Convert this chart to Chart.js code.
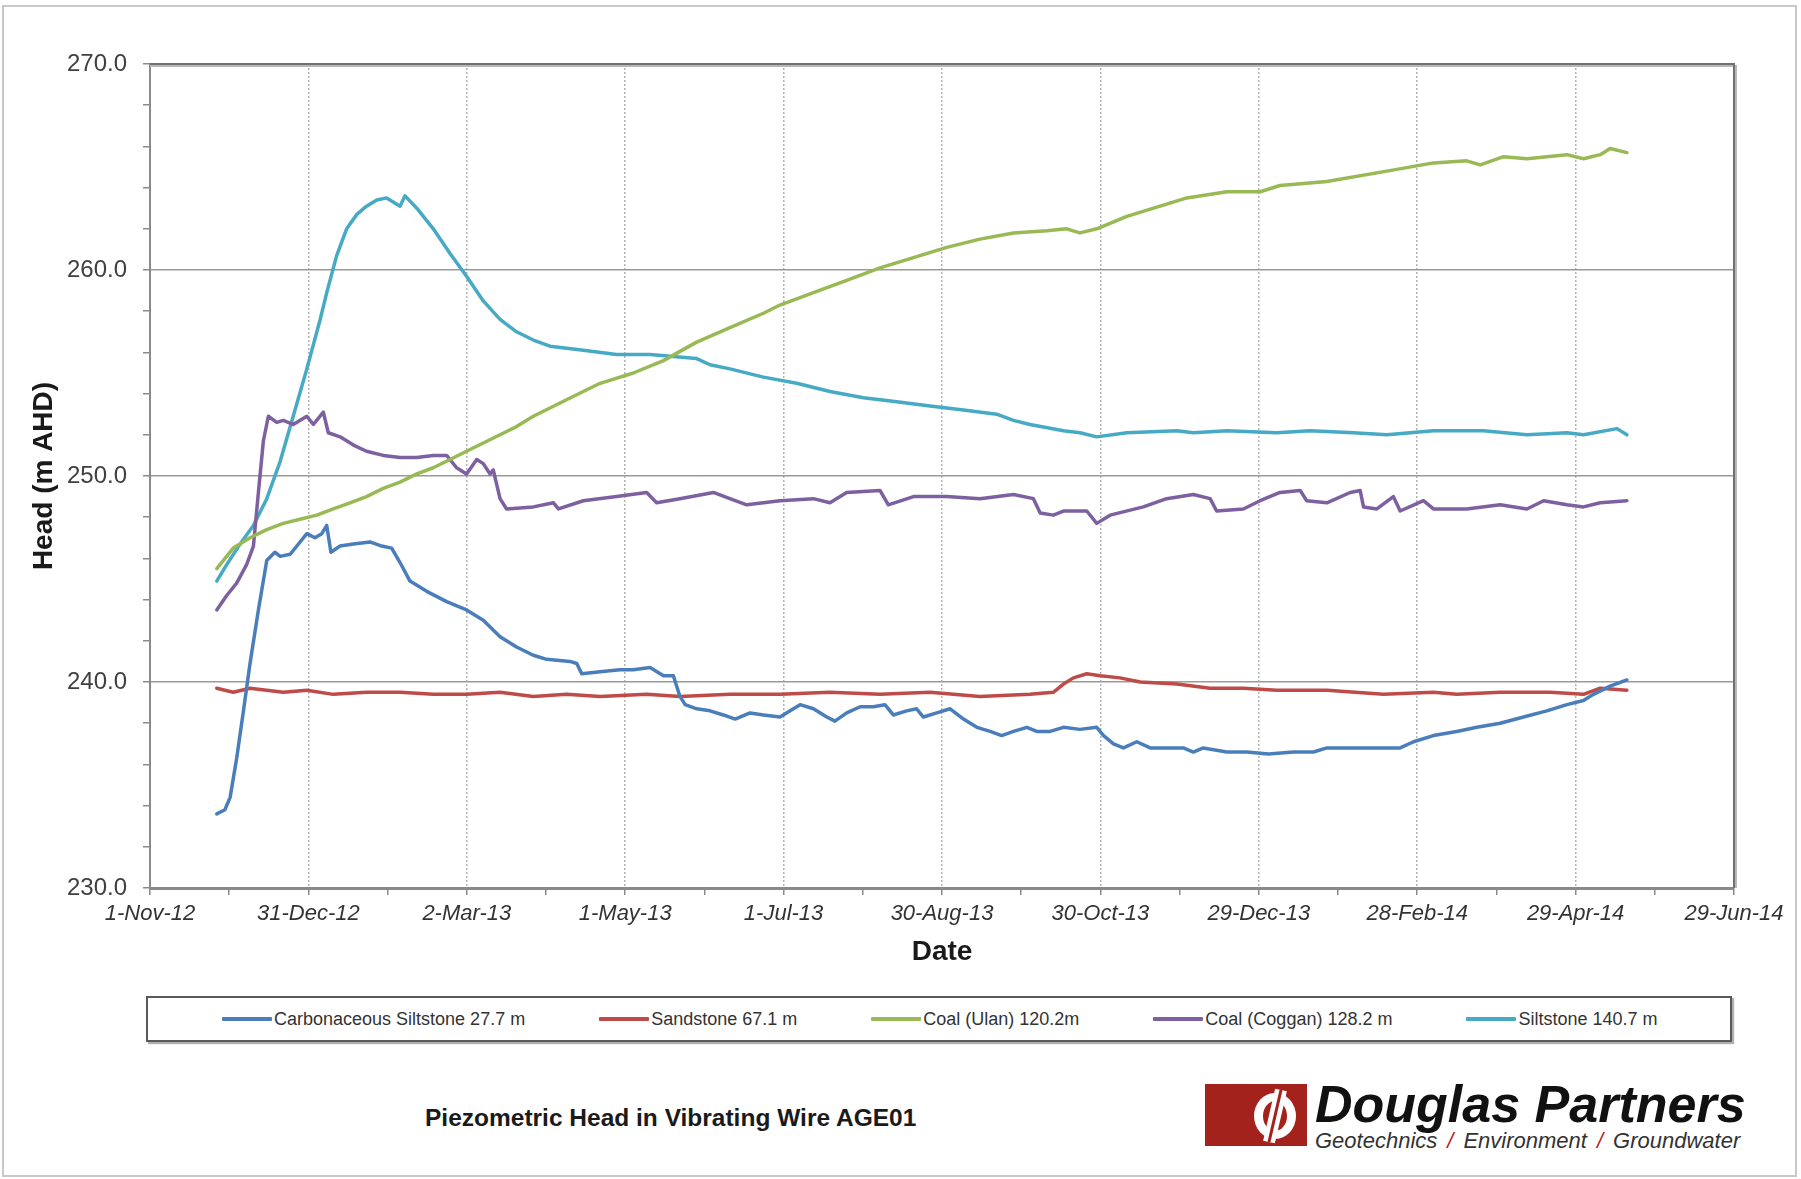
<!DOCTYPE html>
<html>
<head>
<meta charset="utf-8">
<title>Piezometric Head in Vibrating Wire AGE01</title>
<script src="https://cdn.jsdelivr.net/npm/chart.js@4.4.1/dist/chart.umd.min.js"></script>
<style>
  html, body { margin: 0; padding: 0; background: #fff; }
  body { width: 1801px; height: 1179px; position: relative; overflow: hidden; font-family: "Liberation Sans", Arial, sans-serif; }
  #frame { position: absolute; left: 2px; top: 5px; width: 1795px; height: 1172px; border: 2px solid #c8c8c8; box-sizing: border-box; }
  #chartBox { position: absolute; left: 0; top: 0; width: 1801px; height: 990px; }
  #legend { position: absolute; left: 146px; top: 996px; width: 1586px; height: 46px; box-sizing: border-box;
    border: 2px solid #5a5a5a; box-shadow: 2px 2px 1px #b0b0b0; display: flex; align-items: center;
    padding-left: 74px; gap: 74px; font-size: 18px; color: #333; white-space: nowrap; }
  #legend .item { display: flex; align-items: center; }
  #legend .swatch { display: inline-block; width: 50px; height: 4px; margin-right: 2px; border-radius: 1px; }
  #caption { position: absolute; left: 425px; top: 1104px; font-size: 24.5px; line-height: 28px; font-weight: bold; color: #1a1a1a; }
  #logoMark { position: absolute; left: 1205px; top: 1084px; width: 102px; height: 62px; }
  #logoName { position: absolute; left: 1315px; top: 1078px; font-size: 52px; line-height: 52px; font-weight: bold; font-style: italic; color: #111; white-space: nowrap; }
  #logoSub { position: absolute; left: 1315px; top: 1129px; font-size: 22px; line-height: 24px; font-style: italic; color: #333; white-space: nowrap; }
  #logoSub .sep { color: #b3241e; margin: 0 10px; }
</style>
</head>
<body>
<div id="frame"></div>
<div id="chartBox"><canvas id="headChart"></canvas></div>
<div id="legend"></div>
<div id="caption">Piezometric Head in Vibrating Wire AGE01</div>
<svg id="logoMark" viewBox="0 0 102 62">
  <rect x="0" y="0" width="102" height="62" fill="#a3221c"/>
  <ellipse cx="70" cy="32" rx="21" ry="23" fill="#fff"/>
  <ellipse cx="70" cy="32" rx="12" ry="15" fill="#a3221c"/>
  <line x1="76" y1="6" x2="64" y2="58" stroke="#fff" stroke-width="12"/>
  <line x1="76" y1="6" x2="64" y2="58" stroke="#a3221c" stroke-width="3"/>
</svg>
<div id="logoName">Douglas Partners</div>
<div id="logoSub">Geotechnics<span class="sep">/</span>Environment<span class="sep">/</span>Groundwater</div>

<script>
// days are counted from 1-Nov-12 (the left end of the date axis)
const seriesNames = ["Carbonaceous Siltstone 27.7 m", "Sandstone 67.1 m", "Coal (Ulan) 120.2m", "Coal (Coggan) 128.2 m", "Siltstone 140.7 m"];
const seriesColors = ["#4a7ebb", "#be4b48", "#98b954", "#7d60a0", "#46aac5"];
const monthNames = ["Jan", "Feb", "Mar", "Apr", "May", "Jun", "Jul", "Aug", "Sep", "Oct", "Nov", "Dec"];

const carbDays = [25.5, 28.6, 30.6, 33.1, 35.7, 38.2, 41.4, 44.6, 47.7, 49.7,
  53.5, 56.7, 59.9, 63.0, 65.6, 67.5, 69.1, 72.6, 77.7, 84.0,
  88.5, 92.3, 95.5, 99.3, 105.7, 113.3, 120.9, 127.3, 133.7, 140.0,
  146.4, 151.5, 160.4, 163.0, 164.9, 171.9, 179.5, 184.6, 191.0, 196.1,
  199.9, 202.4, 204.4, 208.8, 213.9, 219.0, 223.5, 229.2, 234.3, 240.6,
  244.5, 248.3, 253.4, 258.5, 261.6, 266.1, 271.2, 276.3, 280.7, 283.9,
  289.0, 292.8, 295.4, 300.5, 305.6, 310.7, 315.8, 320.9, 325.3, 329.8,
  334.9, 338.7, 343.8, 348.9, 355.2, 361.6, 364.2, 368.0, 371.8, 376.9,
  382.0, 388.3, 394.7, 398.5, 402.3, 411.3, 418.9, 427.2, 436.7, 444.4,
  449.5, 459.6, 469.8, 477.5, 482.6, 490.2, 499.1, 506.8, 515.7, 524.6,
  533.5, 541.2, 547.5, 551.3, 557.7, 564.1];
const carbHead = [233.6, 233.8, 234.4, 236.3, 238.6, 240.9, 243.5, 245.9, 246.3, 246.1,
  246.2, 246.7, 247.2, 247.0, 247.2, 247.6, 246.3, 246.6, 246.7, 246.8,
  246.6, 246.5, 245.8, 244.9, 244.4, 243.9, 243.5, 243.0, 242.2, 241.7,
  241.3, 241.1, 241.0, 240.9, 240.4, 240.5, 240.6, 240.6, 240.7, 240.3,
  240.3, 239.3, 238.9, 238.7, 238.6, 238.4, 238.2, 238.5, 238.4, 238.3,
  238.6, 238.9, 238.7, 238.3, 238.1, 238.5, 238.8, 238.8, 238.9, 238.4,
  238.6, 238.7, 238.3, 238.5, 238.7, 238.2, 237.8, 237.6, 237.4, 237.6,
  237.8, 237.6, 237.6, 237.8, 237.7, 237.8, 237.4, 237.0, 236.8, 237.1,
  236.8, 236.8, 236.8, 236.6, 236.8, 236.6, 236.6, 236.5, 236.6, 236.6,
  236.8, 236.8, 236.8, 236.8, 237.1, 237.4, 237.6, 237.8, 238.0, 238.3,
  238.6, 238.9, 239.1, 239.4, 239.8, 240.1];

const sandDays = [25.5, 31.8, 38.2, 50.9, 59.9, 70.0, 82.7, 95.5, 108.2, 120.9,
  133.7, 146.4, 159.1, 171.9, 189.7, 202.4, 221.5, 240.6, 259.7, 278.8,
  297.9, 317.0, 336.1, 345.0, 348.9, 352.7, 357.8, 362.9, 370.5, 378.2,
  392.2, 404.9, 417.6, 430.4, 449.5, 471.1, 490.2, 499.1, 515.7, 534.8,
  547.5, 553.9, 564.1];
const sandHead = [239.7, 239.5, 239.7, 239.5, 239.6, 239.4, 239.5, 239.5, 239.4, 239.4,
  239.5, 239.3, 239.4, 239.3, 239.4, 239.3, 239.4, 239.4, 239.5, 239.4,
  239.5, 239.3, 239.4, 239.5, 239.9, 240.2, 240.4, 240.3, 240.2, 240.0,
  239.9, 239.7, 239.7, 239.6, 239.6, 239.4, 239.5, 239.4, 239.5, 239.5,
  239.4, 239.7, 239.6];

const ulanDays = [25.5, 31.8, 38.2, 44.6, 50.9, 57.3, 63.7, 70.0, 76.4, 82.7,
  89.1, 95.5, 101.9, 108.2, 114.6, 120.9, 127.3, 133.7, 140.0, 146.4,
  159.1, 171.9, 184.6, 196.1, 208.8, 221.5, 234.3, 240.6, 253.4, 266.1,
  278.8, 291.6, 304.3, 317.0, 329.8, 342.5, 350.1, 355.2, 361.6, 373.1,
  385.8, 396.0, 411.3, 424.0, 431.6, 449.5, 472.4, 490.2, 502.9, 508.1,
  517.0, 525.9, 541.2, 547.5, 553.9, 557.7, 564.1];
const ulanHead = [245.5, 246.5, 247.0, 247.4, 247.7, 247.9, 248.1, 248.4, 248.7, 249.0,
  249.4, 249.7, 250.1, 250.4, 250.8, 251.2, 251.6, 252.0, 252.4, 252.9,
  253.7, 254.5, 255.0, 255.6, 256.5, 257.2, 257.9, 258.3, 258.9, 259.5,
  260.1, 260.6, 261.1, 261.5, 261.8, 261.9, 262.0, 261.8, 262.0, 262.6,
  263.1, 263.5, 263.8, 263.8, 264.1, 264.3, 264.8, 265.2, 265.3, 265.1,
  265.5, 265.4, 265.6, 265.4, 265.6, 265.9, 265.7];

const cogDays = [25.5, 29.3, 33.1, 36.9, 39.5, 41.4, 43.3, 45.2, 48.4, 50.9,
  54.7, 59.9, 62.4, 66.2, 68.1, 72.6, 77.7, 82.7, 89.1, 95.5,
  101.9, 108.2, 113.3, 117.1, 120.9, 124.8, 127.3, 129.9, 131.1, 133.7,
  136.2, 146.4, 154.1, 156.0, 165.5, 178.2, 189.7, 193.5, 202.4, 215.2,
  221.5, 227.9, 240.6, 253.4, 259.7, 266.1, 278.8, 282.0, 291.6, 304.3,
  317.0, 329.8, 337.4, 340.0, 345.0, 348.9, 357.8, 361.6, 366.7, 379.4,
  388.3, 398.5, 404.9, 407.4, 417.6, 424.0, 431.6, 439.3, 441.8, 449.5,
  458.4, 462.2, 463.5, 468.6, 474.9, 477.5, 486.4, 490.2, 502.9, 515.7,
  525.9, 532.3, 541.2, 547.5, 553.9, 564.1];
const cogHead = [243.5, 244.2, 244.8, 245.7, 246.6, 249.2, 251.7, 252.9, 252.6, 252.7,
  252.5, 252.9, 252.5, 253.1, 252.1, 251.9, 251.5, 251.2, 251.0, 250.9,
  250.9, 251.0, 251.0, 250.4, 250.1, 250.8, 250.6, 250.1, 250.3, 248.9,
  248.4, 248.5, 248.7, 248.4, 248.8, 249.0, 249.2, 248.7, 248.9, 249.2,
  248.9, 248.6, 248.8, 248.9, 248.7, 249.2, 249.3, 248.6, 249.0, 249.0,
  248.9, 249.1, 248.9, 248.2, 248.1, 248.3, 248.3, 247.7, 248.1, 248.5,
  248.9, 249.1, 248.9, 248.3, 248.4, 248.8, 249.2, 249.3, 248.8, 248.7,
  249.2, 249.3, 248.5, 248.4, 249.0, 248.3, 248.8, 248.4, 248.4, 248.6,
  248.4, 248.8, 248.6, 248.5, 248.7, 248.8];

const siltDays = [25.5, 29.3, 34.4, 39.5, 44.6, 49.7, 54.7, 59.9, 65.0, 67.5,
  71.3, 75.1, 79.0, 82.7, 86.6, 90.4, 95.5, 97.4, 101.9, 108.2,
  114.6, 120.9, 127.3, 133.7, 140.0, 146.4, 152.8, 165.5, 178.2, 191.0,
  208.8, 213.9, 221.5, 234.3, 247.0, 259.7, 272.5, 285.2, 297.9, 310.7,
  323.4, 329.8, 336.1, 348.9, 355.2, 361.6, 373.1, 392.2, 398.5, 411.3,
  430.4, 443.1, 459.6, 472.4, 490.2, 509.3, 525.9, 541.2, 547.5, 560.3,
  564.1];
const siltHead = [244.9, 245.7, 246.7, 247.6, 248.9, 250.7, 252.9, 255.2, 257.6, 258.9,
  260.7, 262.0, 262.7, 263.1, 263.4, 263.5, 263.1, 263.6, 263.0, 262.0,
  260.8, 259.7, 258.5, 257.6, 257.0, 256.6, 256.3, 256.1, 255.9, 255.9,
  255.7, 255.4, 255.2, 254.8, 254.5, 254.1, 253.8, 253.6, 253.4, 253.2,
  253.0, 252.7, 252.5, 252.2, 252.1, 251.9, 252.1, 252.2, 252.1, 252.2,
  252.1, 252.2, 252.1, 252.0, 252.2, 252.2, 252.0, 252.1, 252.0, 252.3,
  252.0];

const seriesDays = [carbDays, sandDays, ulanDays, cogDays, siltDays];
const seriesHeads = [carbHead, sandHead, ulanHead, cogHead, siltHead];

const axisStart = Date.UTC(2012, 10, 1);
const minorStep = 30.25;

function isMajor(v) {
  return Math.round(v / minorStep) % 2 === 0;
}

function dayLabel(v) {
  const d = new Date(axisStart + Math.floor(v) * 86400000);
  return d.getUTCDate() + "-" + monthNames[d.getUTCMonth()] + "-" + String(d.getUTCFullYear()).slice(2);
}

// frame on top and right of plot area
const plotFrame = {
  id: "plotFrame",
  afterDraw(chart) {
    const { ctx, chartArea: a } = chart;
    ctx.save();
    ctx.strokeStyle = "#b8b8b8";
    ctx.lineWidth = 2;
    ctx.beginPath();
    ctx.moveTo(a.left, a.top + 2);
    ctx.lineTo(a.right + 2, a.top + 2);
    ctx.lineTo(a.right + 2, a.bottom);
    ctx.stroke();
    ctx.strokeStyle = "#707070";
    ctx.beginPath();
    ctx.moveTo(a.left, a.top);
    ctx.lineTo(a.right, a.top);
    ctx.lineTo(a.right, a.bottom);
    ctx.stroke();
    ctx.restore();
  }
};

Chart.defaults.font.family = '"Liberation Sans", Arial, sans-serif';

const ctx = document.getElementById("headChart").getContext("2d");
const headChart = new Chart(ctx, {
  type: "line",
  data: {
    datasets: seriesNames.map((name, i) => ({
      label: name,
      data: seriesDays[i].map((d, j) => ({ x: d, y: seriesHeads[i][j] })),
      borderColor: seriesColors[i],
      backgroundColor: seriesColors[i],
      borderWidth: 3.5,
      pointRadius: 0,
      tension: 0,
      borderJoinStyle: "round",
      borderCapStyle: "round"
    }))
  },
  options: {
    responsive: true,
    maintainAspectRatio: false,
    animation: false,
    layout: { padding: { top: 64, right: 67, bottom: 17, left: 0 } },
    plugins: {
      legend: { display: false },
      tooltip: { enabled: false }
    },
    scales: {
      x: {
        type: "linear",
        min: 0,
        max: 605,
        ticks: {
          stepSize: minorStep,
          autoSkip: false,
          maxRotation: 0,
          padding: 6,
          color: "#333",
          font: { size: 22, style: "italic" },
          callback: v => (isMajor(v) ? dayLabel(v) : "")
        },
        grid: {
          color: c => (c.tick && isMajor(c.tick.value) ? "#b4b4b4" : "rgba(0,0,0,0)"),
          lineWidth: 1.5,
          tickLength: 7,
          tickColor: "#8a8a8a",
          tickWidth: 1.5
        },
        border: { color: "#8a8a8a", width: 3, dash: [2, 2] },
        title: {
          display: true,
          text: "Date",
          color: "#1a1a1a",
          font: { size: 28, weight: "bold" },
          padding: { top: 2, bottom: 4 }
        }
      },
      y: {
        type: "linear",
        min: 230,
        max: 270,
        afterFit(scale) {
          scale.width = 150;
        },
        ticks: {
          stepSize: 2,
          padding: 16,
          color: "#404040",
          font: { size: 24 },
          callback: v => (v % 10 === 0 ? v.toFixed(1) : "")
        },
        grid: {
          color: c => (c.tick && c.tick.value % 10 === 0 ? "#9a9a9a" : "rgba(0,0,0,0)"),
          lineWidth: 1.5,
          tickLength: 7,
          tickColor: "#8a8a8a",
          tickWidth: 1.5
        },
        border: { color: "#8a8a8a", width: 2 },
        title: {
          display: true,
          text: "Head (m AHD)",
          color: "#1a1a1a",
          font: { size: 28, weight: "bold" },
          padding: { top: 27, bottom: 0 }
        }
      }
    }
  },
  plugins: [plotFrame]
});

// html legend built from the chart datasets
const legendBox = document.getElementById("legend");
headChart.data.datasets.forEach(ds => {
  const item = document.createElement("div");
  item.className = "item";
  const swatch = document.createElement("span");
  swatch.className = "swatch";
  swatch.style.background = ds.borderColor;
  const text = document.createElement("span");
  text.textContent = ds.label;
  item.appendChild(swatch);
  item.appendChild(text);
  legendBox.appendChild(item);
});
</script>
</body>
</html>
